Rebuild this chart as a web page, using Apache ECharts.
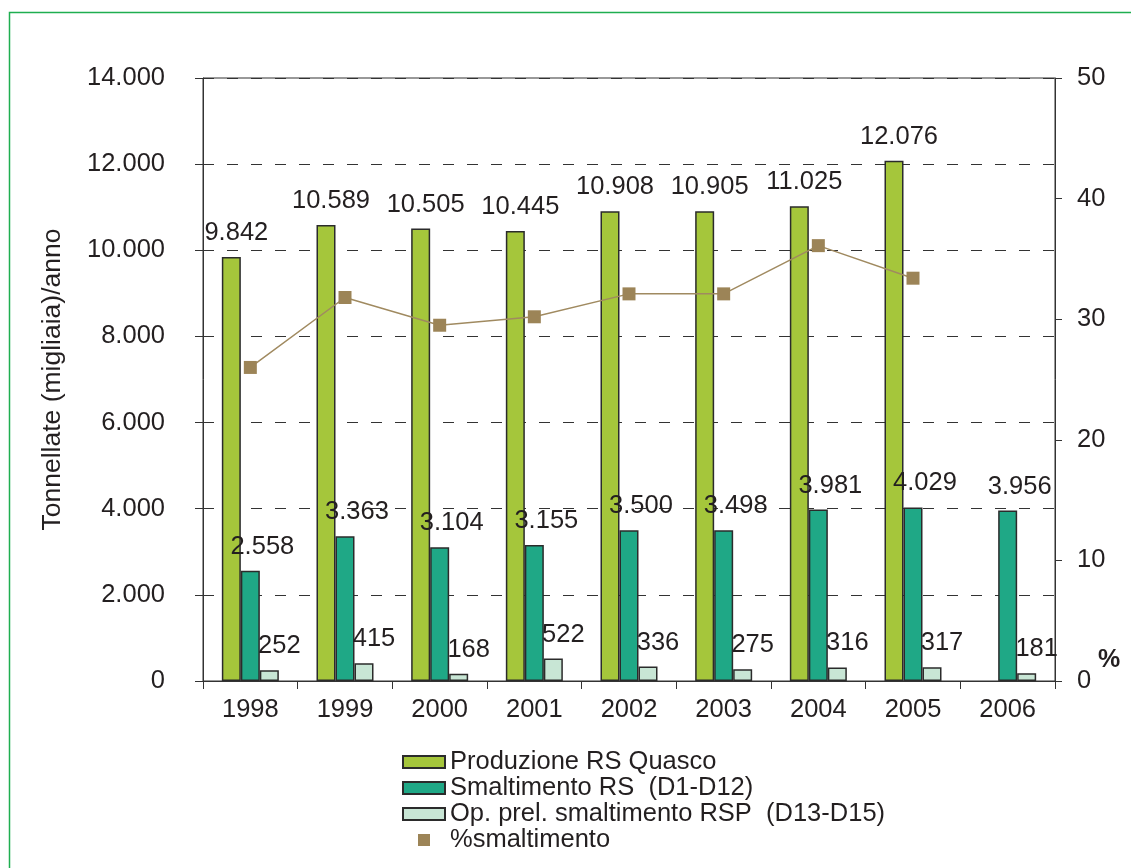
<!DOCTYPE html>
<html>
<head>
<meta charset="utf-8">
<script src="https://cdn.jsdelivr.net/npm/echarts@6/dist/echarts.min.js"></script>
<style>
html,body{margin:0;padding:0;background:#fff;}
#main{width:1131px;height:868px;}
</style>
</head>
<body>
<div id="main"></div>
<script>
const years = ['1998','1999','2000','2001','2002','2003','2004','2005','2006'];
const produzione = [9842, 10589, 10505, 10445, 10908, 10905, 11025, 12076, null];
const smaltimento = [2558, 3363, 3104, 3155, 3500, 3498, 3981, 4029, 3956];
const opPrel = [252, 415, 168, 522, 336, 275, 316, 317, 181];
const percSmalt = [26.0, 31.8, 29.5, 30.2, 32.1, 32.1, 36.1, 33.4, null];
const leftTicks = {min: 0, max: 14000, interval: 2000};
const rightTicks = {min: 0, max: 50, interval: 10};
const names = ['Produzione RS Quasco', 'Smaltimento RS  (D1-D12)', 'Op. prel. smaltimento RSP  (D13-D15)', '%smaltimento'];

const FONT = "'Liberation Sans', Arial, Helvetica, sans-serif";
const TXT = '#231f20';
function itFmt(v) {
  if (v === null || v === undefined) return '';
  return String(Math.round(v)).replace(/\B(?=(\d{3})+(?!\d))/g, '.');
}

const chart = echarts.init(document.getElementById('main'));
const barBorder = {borderColor: '#2b2b2b', borderWidth: 1.5};
function barLabel(dx) {
  return {
    show: true, position: 'top', distance: 11, offset: [dx, 0],
    fontSize: 25.5, color: TXT, fontFamily: FONT,
    formatter: p => itFmt(p.value)
  };
}

chart.setOption({
  animation: false,
  backgroundColor: '#fff',
  textStyle: {fontFamily: FONT},
  graphic: [
    {type: 'rect', shape: {x: 9.5, y: 12.5, width: 1200, height: 1000},
     style: {fill: 'none', stroke: '#1fae50', lineWidth: 1.5}, z: -1},
    {type: 'text', left: 1098, top: 648,
     style: {text: '%', font: 'bold 25px ' + FONT, fill: TXT}}
  ],
  grid: {left: 203, right: 76, top: 78, bottom: 187, show: true,
         borderColor: '#333', borderWidth: 1, backgroundColor: 'transparent'},
  legend: {
    orient: 'vertical', left: 397, top: 744, itemGap: 0,
    itemWidth: 42, itemHeight: 12,
    textStyle: {fontSize: 25.5, color: TXT, fontFamily: FONT, lineHeight: 25},
    data: [
      {name: names[0], icon: 'rect'},
      {name: names[1], icon: 'rect'},
      {name: names[2], icon: 'rect'},
      {name: names[3], icon: 'path://M0,0M42,12M15,0h12v12h-12z'}
    ]
  },
  xAxis: {
    type: 'category', data: years, boundaryGap: true,
    axisLine: {lineStyle: {color: '#333', width: 1}},
    axisTick: {show: true, length: 8, alignWithLabel: false, lineStyle: {color: '#333'}},
    axisLabel: {fontSize: 25.5, color: TXT, margin: 16, fontFamily: FONT}
  },
  yAxis: [
    {
      type: 'value', min: leftTicks.min, max: leftTicks.max, interval: leftTicks.interval,
      name: 'Tonnellate (migliaia)/anno', nameLocation: 'middle', nameGap: 137,
      nameTextStyle: {fontSize: 26.5, color: TXT, fontFamily: FONT},
      axisLine: {show: true, lineStyle: {color: '#333', width: 1}},
      axisTick: {show: true, length: 8, lineStyle: {color: '#333'}},
      axisLabel: {fontSize: 25.5, color: TXT, margin: 38, fontFamily: FONT, formatter: v => itFmt(v)},
      splitLine: {show: true, lineStyle: {color: '#333', type: [11, 13], width: 1}}
    },
    {
      type: 'value', min: rightTicks.min, max: rightTicks.max, interval: rightTicks.interval,
      position: 'right',
      axisLine: {show: true, lineStyle: {color: '#333', width: 1}},
      axisTick: {show: true, length: 7, lineStyle: {color: '#333'}},
      axisLabel: {fontSize: 25.5, color: TXT, margin: 22, fontFamily: FONT},
      splitLine: {show: false}
    }
  ],
  series: [
    {name: names[0], type: 'bar', data: produzione, barWidth: 19, barGap: '0%',
     itemStyle: Object.assign({color: '#a5c63b'}, barBorder), label: barLabel(5)},
    {name: names[1], type: 'bar', data: smaltimento, barWidth: 19, barGap: '0%',
     itemStyle: Object.assign({color: '#1fa886'}, barBorder), label: barLabel(12)},
    {name: names[2], type: 'bar', data: opPrel, barWidth: 19, barGap: '0%',
     itemStyle: Object.assign({color: '#c8e6d5'}, barBorder), label: barLabel(10)},
    {name: names[3], type: 'line', yAxisIndex: 1, data: percSmalt,
     symbol: 'rect', symbolSize: 13, z: 5,
     itemStyle: {color: '#9c8457'},
     lineStyle: {color: '#a08a60', width: 1.5}}
  ]
});
</script>
</body>
</html>
